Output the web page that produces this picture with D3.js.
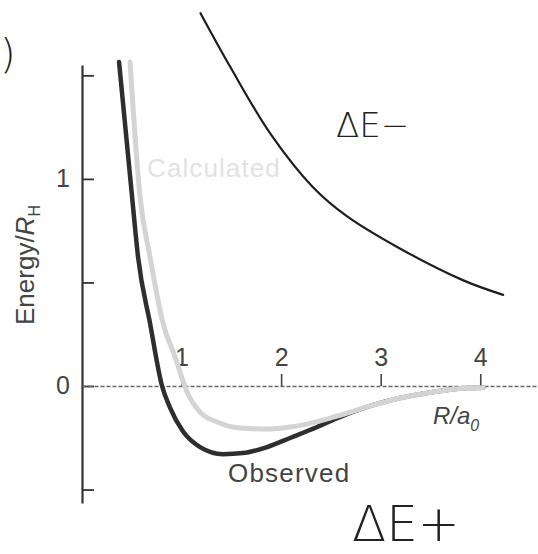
<!DOCTYPE html>
<html><head><meta charset="utf-8">
<script src="https://cdn.jsdelivr.net/npm/d3@7"></script>
<style>
html,body{margin:0;padding:0;background:#fff;}
svg{display:block;font-family:"Liberation Sans",Arial,sans-serif;}
</style></head>
<body>
<svg id="chart" width="538" height="554"></svg>
<script>
// ---- data ----
const xTicks = [1, 2, 3, 4];
const yTicks = [-0.5, 0, 0.5, 1, 1.5];
const yTickLabels = {"0": "0", "1": "1"};

const observedR = [0.372, 0.503, 0.563, 0.683, 0.804, 0.884, 1.015, 1.186, 1.417, 1.618, 1.859, 2.090, 2.362, 2.563, 2.864, 3.196, 3.528, 3.869, 4.03];
const observedE = [1.565, 0.913, 0.623, 0.304, 0.0, -0.104, -0.220, -0.295, -0.329, -0.324, -0.295, -0.251, -0.198, -0.155, -0.101, -0.058, -0.029, -0.010, -0.008];

const calculatedR = [0.482, 0.583, 0.683, 0.814, 0.935, 1.055, 1.186, 1.357, 1.588, 1.859, 2.090, 2.362, 2.563, 2.864, 3.196, 3.528, 3.869, 4.03];
const calculatedE = [1.565, 0.913, 0.623, 0.304, 0.140, -0.029, -0.126, -0.174, -0.203, -0.208, -0.198, -0.172, -0.145, -0.101, -0.058, -0.029, -0.010, -0.008];

const deltaMinusR = [1.19, 1.49, 1.89, 2.32, 2.66, 3.17, 3.83, 4.23];
const deltaMinusE = [1.80, 1.54, 1.22, 0.96, 0.82, 0.67, 0.51, 0.44];

// ---- scales ----
const svg = d3.select("#chart");
const x = d3.scaleLinear().domain([0, 4.58]).range([82, 538]);
const y = d3.scaleLinear().domain([-0.565, 1.55]).range([503, 65]);

// ---- axes ----
const yAxis = d3.axisLeft(y).tickValues(yTicks).tickSize(-12).tickSizeOuter(0).tickPadding(12)
  .tickFormat(d => yTickLabels[String(d)] || "");
const gy = svg.append("g").attr("transform", `translate(${x(0)},0)`).call(yAxis);
gy.select(".domain").attr("stroke", "#333").attr("stroke-width", 2.2);
gy.selectAll(".tick line").attr("stroke", "#333").attr("stroke-width", 1.8);
gy.selectAll(".tick text").attr("font-size", 25).attr("fill", "#444")
  .attr("font-family", "Liberation Sans, Arial, sans-serif");

const xAxis = d3.axisTop(x).tickValues(xTicks).tickSize(12).tickSizeOuter(0).tickPadding(8)
  .tickFormat(d3.format("d"));
const gx = svg.append("g").attr("transform", `translate(0,${y(0)})`).call(xAxis);
gx.select(".domain").attr("stroke", "#666").attr("stroke-width", 1.6).attr("stroke-dasharray", "4,2");
gx.selectAll(".tick line").attr("stroke", "#444").attr("stroke-width", 1.6);
gx.selectAll(".tick text").attr("font-size", 25).attr("fill", "#444")
  .attr("font-family", "Liberation Sans, Arial, sans-serif");

// ---- curves ----
const line = d3.line().x(d => x(d[0])).y(d => y(d[1])).curve(d3.curveMonotoneX);

svg.append("path").datum(d3.zip(observedR, observedE))
  .attr("d", line).attr("fill", "none").attr("stroke", "#2e2e2e").attr("stroke-width", 4.5)
  .attr("stroke-linecap", "round");
svg.append("path").datum(d3.zip(calculatedR, calculatedE))
  .attr("d", line).attr("fill", "none").attr("stroke", "#d4d4d4").attr("stroke-width", 5)
  .attr("stroke-linecap", "round");
svg.append("path").datum(d3.zip(deltaMinusR, deltaMinusE))
  .attr("d", d3.line().x(d => x(d[0])).y(d => y(d[1])).curve(d3.curveCatmullRom.alpha(0.5)))
  .attr("fill", "none").attr("stroke", "#1e1e1e").attr("stroke-width", 2.2)
  .attr("stroke-linecap", "round");

// ---- labels ----
svg.append("text").attr("x", 147).attr("y", 177).attr("font-size", 26)
  .attr("fill", "#e2e2e2").attr("letter-spacing", 1.1).text("Calculated");
svg.append("text").attr("x", 228).attr("y", 482).attr("font-size", 26)
  .attr("fill", "#444").attr("letter-spacing", 1.2).text("Observed");

const xl = svg.append("text").attr("x", 433).attr("y", 424).attr("font-size", 24)
  .attr("fill", "#444").attr("font-style", "italic");
xl.append("tspan").text("R/a");
xl.append("tspan").attr("font-size", 16).attr("dy", 7).text("0");

const yl = svg.append("text").attr("transform", "translate(34,325) rotate(-90)")
  .attr("font-size", 26).attr("fill", "#444");
yl.append("tspan").text("Energy/");
yl.append("tspan").attr("font-style", "italic").text("R");
yl.append("tspan").attr("font-size", 16).attr("dy", 6).text("H");

// hand-written annotations
svg.append("text").attr("x", 336).attr("y", 137).attr("font-size", 34)
  .attr("font-family", "DejaVu Sans, sans-serif").attr("font-weight", 200)
  .attr("fill", "#222").text("ΔE−");
svg.append("text").attr("x", 352).attr("y", 541).attr("font-size", 50)
  .attr("font-family", "DejaVu Sans, sans-serif").attr("font-weight", 200)
  .attr("fill", "#222").text("ΔE+");
svg.append("text").attr("x", 0).attr("y", 68).attr("font-size", 40)
  .attr("font-family", "DejaVu Sans, sans-serif").attr("font-weight", 200)
  .attr("fill", "#222").text(")");
</script>
</body></html>
